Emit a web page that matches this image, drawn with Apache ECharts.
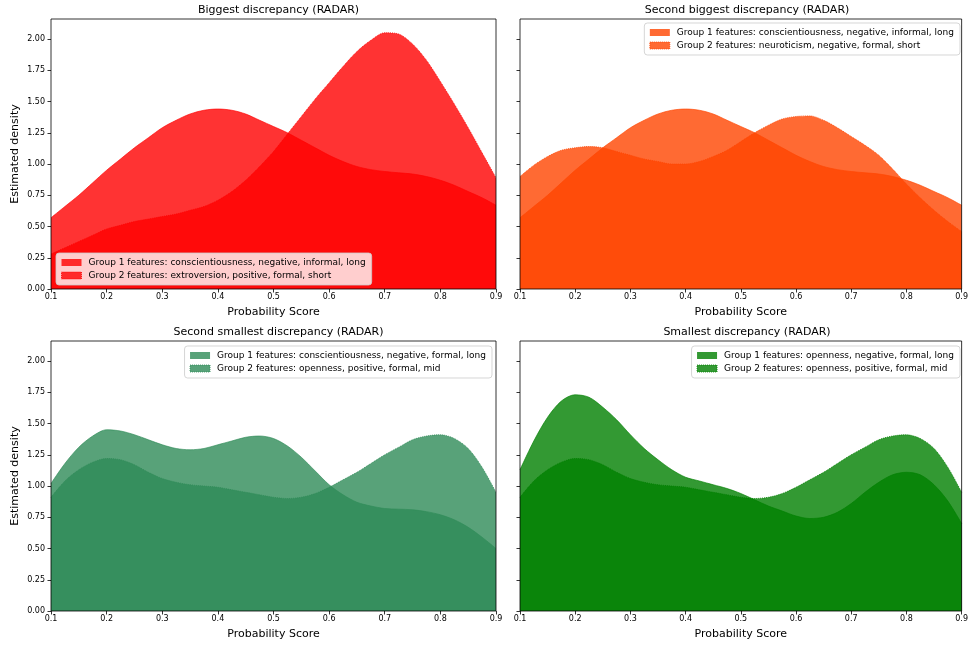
<!DOCTYPE html>
<html>
<head>
<meta charset="utf-8">
<script src="https://cdn.jsdelivr.net/npm/echarts@6/dist/echarts.min.js"></script>
<style>
  html, body { margin: 0; padding: 0; background: #fff; }
  #chart { width: 971px; height: 645px; }
</style>
</head>
<body>
<div id="chart"></div>
<script>
// Probability scores at which each density estimate was sampled
const scores = [0.1, 0.125, 0.15, 0.175, 0.2, 0.225, 0.25, 0.275, 0.3, 0.325, 0.35, 0.375, 0.4, 0.425, 0.45, 0.475,
                0.5, 0.525, 0.55, 0.575, 0.6, 0.625, 0.65, 0.675, 0.7, 0.725, 0.75, 0.775, 0.8, 0.825, 0.85, 0.875, 0.9];

// Estimated densities per feature group
const consNegInformalLong = [0.57, 0.66, 0.75, 0.85, 0.95, 1.04, 1.13, 1.21, 1.29, 1.35, 1.40, 1.43, 1.44, 1.43, 1.40, 1.35,
                             1.30, 1.25, 1.19, 1.13, 1.07, 1.02, 0.98, 0.955, 0.94, 0.93, 0.92, 0.90, 0.87, 0.83, 0.78, 0.73, 0.67];
const extroPosFormalShort = [0.28, 0.33, 0.38, 0.43, 0.48, 0.51, 0.54, 0.56, 0.58, 0.60, 0.63, 0.66, 0.71, 0.78, 0.87, 0.98,
                             1.10, 1.24, 1.38, 1.52, 1.65, 1.78, 1.90, 1.99, 2.05, 2.04, 1.96, 1.83, 1.66, 1.48, 1.29, 1.09, 0.89];
const neuroNegFormalShort = [0.90, 0.99, 1.06, 1.11, 1.13, 1.14, 1.13, 1.10, 1.07, 1.04, 1.02, 1.00, 1.00, 1.02, 1.06, 1.11,
                             1.18, 1.25, 1.31, 1.36, 1.38, 1.385, 1.35, 1.29, 1.22, 1.15, 1.07, 0.96, 0.84, 0.73, 0.63, 0.54, 0.46];
const consNegFormalLong   = [1.02, 1.18, 1.31, 1.40, 1.45, 1.44, 1.41, 1.37, 1.33, 1.30, 1.29, 1.30, 1.33, 1.36, 1.39, 1.40,
                             1.38, 1.32, 1.23, 1.12, 1.01, 0.93, 0.87, 0.84, 0.82, 0.815, 0.81, 0.795, 0.77, 0.73, 0.67, 0.59, 0.50];
const openPosFormalMid    = [0.91, 1.04, 1.13, 1.19, 1.22, 1.21, 1.17, 1.11, 1.06, 1.03, 1.01, 1.00, 0.99, 0.97, 0.95, 0.93,
                             0.91, 0.90, 0.91, 0.94, 0.99, 1.05, 1.11, 1.18, 1.25, 1.31, 1.37, 1.40, 1.41, 1.38, 1.30, 1.15, 0.95];
const openNegFormalLong   = [1.13, 1.36, 1.55, 1.68, 1.73, 1.71, 1.63, 1.53, 1.41, 1.30, 1.21, 1.13, 1.07, 1.04, 1.01, 0.98,
                             0.94, 0.89, 0.84, 0.80, 0.76, 0.74, 0.75, 0.79, 0.86, 0.95, 1.03, 1.09, 1.11, 1.09, 1.01, 0.88, 0.70];

// Panel titles and legend labels
const panelTitles = [
  'Biggest discrepancy (RADAR)',
  'Second biggest discrepancy (RADAR)',
  'Second smallest discrepancy (RADAR)',
  'Smallest discrepancy (RADAR)'
];
const group1Labels = [
  'Group 1 features: conscientiousness, negative, informal, long',
  'Group 1 features: conscientiousness, negative, informal, long',
  'Group 1 features: conscientiousness, negative, formal, long',
  'Group 1 features: openness, negative, formal, long'
];
const group2Labels = [
  'Group 2 features: extroversion, positive, formal, short',
  'Group 2 features: neuroticism, negative, formal, short',
  'Group 2 features: openness, positive, formal, mid',
  'Group 2 features: openness, positive, formal, mid'
];
const group1Values = [consNegInformalLong, consNegInformalLong, consNegFormalLong, openNegFormalLong];
const group2Values = [extroPosFormalShort, neuroNegFormalShort, openPosFormalMid, openPosFormalMid];

// Axis ticks
const xTicks = [0.1, 0.2, 0.3, 0.4, 0.5, 0.6, 0.7, 0.8, 0.9];
const yTicks = [0, 0.25, 0.5, 0.75, 1.0, 1.25, 1.5, 1.75, 2.0];

const panelColors = ['#ff0000', '#ff4500', '#2e8b57', '#008000'];
const FONT = 'DejaVu Sans';

// Layout of the 2x2 panels (pixels)
const grids = [
  { left: 51,  top: 19,  width: 445, height: 270 },
  { left: 520, top: 19,  width: 444, height: 270 },
  { left: 51,  top: 341, width: 445, height: 270 },
  { left: 520, top: 341, width: 444, height: 270 }
];
const legendPos = [
  { left: 56, top: 253 },
  { right: 11, top: 23 },
  { right: 479, top: 346 },
  { right: 11, top: 346 }
];

const chart = echarts.init(document.getElementById('chart'), null, { renderer: 'canvas' });

const option = {
  animation: false,
  backgroundColor: '#ffffff',
  textStyle: { fontFamily: FONT },
  title: grids.map((g, i) => ({
    text: panelTitles[i],
    left: g.left + g.width / 2,
    top: g.top - 19,
    textAlign: 'center',
    textStyle: { fontFamily: FONT, fontSize: 11, fontWeight: 'normal', color: '#000' }
  })),
  grid: grids.map(g => Object.assign({
    show: true,
    z: 10,
    backgroundColor: 'transparent',
    borderColor: '#000',
    borderWidth: 0.8
  }, g)),
  xAxis: grids.map((g, i) => ({
    type: 'value',
    gridIndex: i,
    min: 0.1,
    max: 0.9,
    interval: 0.1,
    z: 11,
    name: 'Probability Score',
    nameLocation: 'middle',
    nameGap: 18,
    nameTextStyle: { fontFamily: FONT, fontSize: 11, color: '#000' },
    splitLine: { show: false },
    axisLine: { show: false },
    axisTick: { show: true, length: 3.5, lineStyle: { color: '#000', width: 0.8 }, customValues: xTicks },
    axisLabel: {
      fontFamily: FONT, fontSize: 8, color: '#000', margin: 4,
      customValues: xTicks,
      formatter: v => v.toFixed(1)
    }
  })),
  yAxis: grids.map((g, i) => ({
    type: 'value',
    gridIndex: i,
    min: 0,
    max: 2.16,
    z: 11,
    name: i % 2 === 0 ? 'Estimated density' : '',
    nameLocation: 'middle',
    nameGap: 30,
    nameTextStyle: { fontFamily: FONT, fontSize: 11, color: '#000' },
    splitLine: { show: false },
    axisLine: { show: false },
    axisTick: { show: true, length: 3.5, lineStyle: { color: '#000', width: 0.8 }, customValues: yTicks },
    axisLabel: {
      show: i % 2 === 0,
      fontFamily: FONT, fontSize: 8, color: '#000', margin: 6,
      customValues: yTicks,
      formatter: v => v.toFixed(2)
    }
  })),
  legend: grids.map((g, i) => Object.assign({
    orient: 'vertical',
    itemWidth: 20,
    itemHeight: 7,
    itemGap: 4,
    padding: [5, 6, 5, 5],
    backgroundColor: 'rgba(255,255,255,0.8)',
    borderColor: 'rgba(204,204,204,0.8)',
    borderWidth: 1,
    borderRadius: 3,
    selectedMode: false,
    icon: 'rect',
    textStyle: { fontFamily: FONT, fontSize: 9, color: '#000', padding: [0, 0, 0, 2] },
    data: [
      { name: group1Labels[i], itemStyle: { color: panelColors[i], opacity: 0.8, borderWidth: 0 } },
      { name: group2Labels[i], itemStyle: { color: panelColors[i], opacity: 0.8, borderColor: panelColors[i], borderWidth: 1, borderType: 'dotted' } }
    ]
  }, legendPos[i])),
  series: []
};

// Two overlapping filled densities per panel
for (let i = 0; i < 4; i++) {
  [group1Values[i], group2Values[i]].forEach((vals, k) => {
    option.series.push({
      type: 'line',
      name: k === 0 ? group1Labels[i] : group2Labels[i],
      xAxisIndex: i,
      yAxisIndex: i,
      data: scores.map((x, j) => [x, vals[j]]),
      smooth: 0.3,
      showSymbol: false,
      symbol: 'none',
      z: 2 + k,
      itemStyle: { color: panelColors[i] },
      lineStyle: { color: panelColors[i], width: k === 0 ? 0.8 : 1, type: k === 0 ? 'solid' : 'dotted', opacity: 0.8 },
      areaStyle: { color: panelColors[i], opacity: 0.8 }
    });
  });
}

chart.setOption(option);
</script>
</body>
</html>
